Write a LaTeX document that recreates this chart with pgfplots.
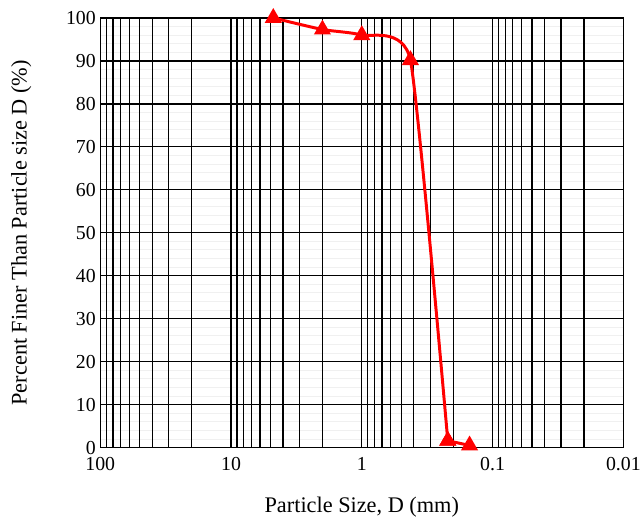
\documentclass[border=0pt]{standalone}
\usepackage{pgfplots}
\pgfplotsset{compat=1.18}
\usepackage{fontspec}
\setmainfont{Liberation Serif}
\begin{document}
\begin{tikzpicture}
\begin{axis}[
  scale only axis,
  width=526bp, height=432bp,
  xmode=log, log basis x=10,
  x dir=reverse,
  xmin=0.01, xmax=100,
  ymin=0, ymax=100,
  xtick={0.01,0.1,1,10,100},
  xticklabels={0.01,0.1,1,10,100},
  minor xtick={0.02,0.03,0.04,0.05,0.06,0.07,0.08,0.09,0.2,0.3,0.4,0.5,0.6,0.7,0.8,0.9,2,3,4,5,6,7,8,9,20,30,40,50,60,70,80,90},
  ytick={0,10,...,100},
  minor y tick num=4,
  /pgf/number format/assume math mode=true,
  ticklabel style={font=\fontsize{20}{24}\selectfont},
  xlabel={Particle Size, D (mm)},
  ylabel={Percent Finer Than Particle size D (\%)},
  grid=both,
  major grid style={black, line width=1.3pt},
  minor x grid style={black, line width=1.3pt},
  minor y grid style={black, opacity=0.06, line width=1pt},
  tick style={draw=none},
  axis line style={black, line width=1.3pt},
  xticklabel style={yshift=-6pt},
  yticklabel style={xshift=-1pt},
  xlabel style={font=\fontsize{22.5}{26}\selectfont, yshift=-20pt},
  ylabel style={font=\fontsize{22.5}{26}\selectfont, yshift=28pt},
  clip=false,
]
\addplot[red, line width=3pt, smooth, tension=0.3, mark=triangle*, mark size=7pt, mark options={solid, fill=red}]
  coordinates {(4.75,100) (2.0,97.3) (1.0,96.0) (0.425,90.2) (0.22,1.6)};
\addplot[red, line width=3pt, mark=triangle*, mark size=7pt, mark options={solid, fill=red}]
  coordinates {(0.22,1.6) (0.15,0.5)};
\end{axis}
\path (current axis.outer north) ++(0,8bp);
\path (current axis.outer south) ++(0,-5bp);
\path (current axis.outer west) ++(-8bp,0);
\end{tikzpicture}
\end{document}
